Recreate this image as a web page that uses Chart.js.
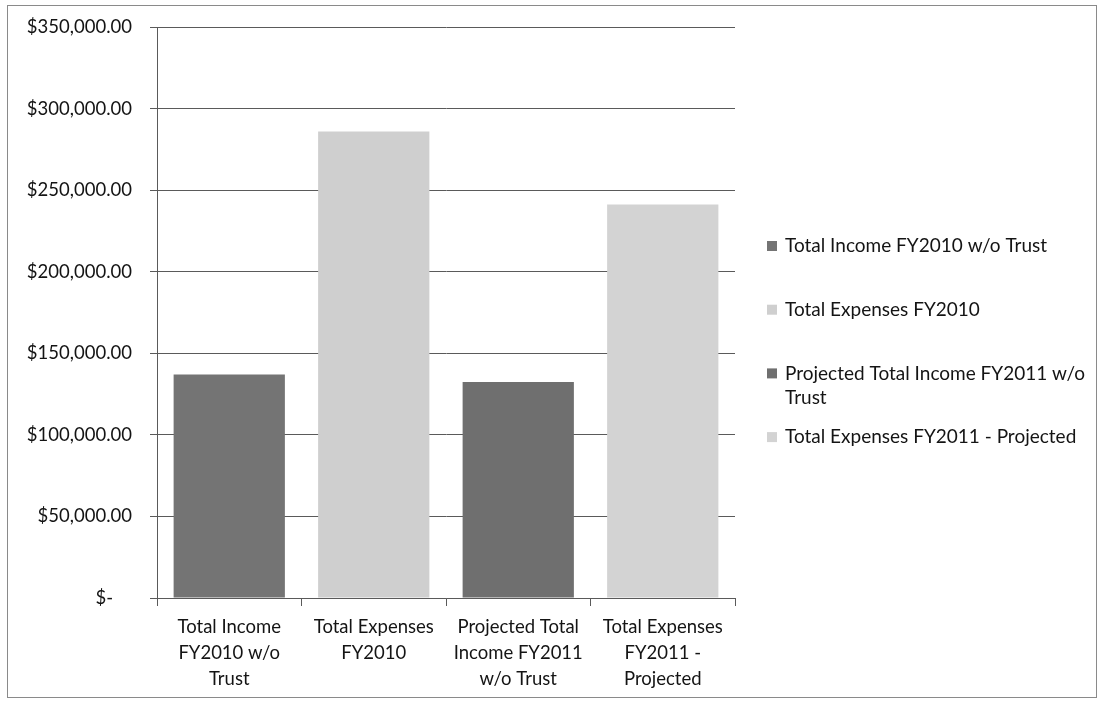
<!DOCTYPE html>
<html>
<head>
<meta charset="utf-8">
<script src="https://cdn.jsdelivr.net/npm/chart.js@4/dist/chart.umd.min.js"></script>
<style>
    html, body { margin: 0; padding: 0; background: #fff; }
    #wrap { width: 1102px; height: 704px; position: relative; }
</style>
</head>
<body>
<div id="wrap"><canvas id="chart"></canvas></div>
<script>
const categories = [
    ['Total Income', 'FY2010 w/o', 'Trust'],
    ['Total Expenses', 'FY2010'],
    ['Projected Total', 'Income FY2011', 'w/o Trust'],
    ['Total Expenses', 'FY2011 -', 'Projected'],
];
const legendNames = [
    'Total Income FY2010 w/o Trust',
    'Total Expenses FY2010',
    'Projected Total Income FY2011 w/o Trust',
    'Total Expenses FY2011 - Projected',
];
const amounts = [137000, 286000, 132500, 241300];
const barColors = ['#747474', '#cfcfcf', '#6f6f6f', '#d3d3d3'];

const FONT = 'Lato, "Open Sans", sans-serif';
const TEXT = '#141414';
const LINE = '#5a5a5a';

function money(v) {
    if (v === 0) return '$-    ';
    return '$' + v.toLocaleString('en-US', { minimumFractionDigits: 2, maximumFractionDigits: 2 });
}

// frame around the whole chart + legend at the right, drawn by hand so it can wrap
const framePlugin = {
    id: 'frame',
    beforeDraw(chart) {
        const ctx = chart.ctx;
        ctx.save();
        ctx.fillStyle = '#fff';
        ctx.fillRect(0, 0, chart.width, chart.height);
        ctx.strokeStyle = '#8a8a8a';
        ctx.lineWidth = 1;
        ctx.strokeRect(7.5, 5.5, 1089, 692);
        ctx.restore();
    },
    afterDraw(chart) {
        const ctx = chart.ctx;
        const colors = chart.data.datasets[0].backgroundColor;
        ctx.save();
        ctx.font = `19px ${FONT}`;
        ctx.textBaseline = 'middle';
        let y = 246;
        legendNames.forEach((name, i) => {
            const lines = [];
            let cur = '';
            name.split(' ').forEach((w) => {
                const test = cur === '' ? w : cur + ' ' + w;
                if (ctx.measureText(test).width > 312 && cur !== '') {
                    lines.push(cur);
                    cur = w;
                } else {
                    cur = test;
                }
            });
            lines.push(cur);
            ctx.fillStyle = colors[i];
            ctx.fillRect(767, y - 5, 10, 10);
            ctx.fillStyle = TEXT;
            lines.forEach((ln, k) => ctx.fillText(ln, 785, y + k * 24));
            y += 63.7;
        });
        ctx.restore();
    },
};

new Chart(document.getElementById('chart'), {
    type: 'bar',
    data: {
        labels: categories,
        datasets: [{
            data: amounts,
            backgroundColor: barColors,
            borderWidth: 0,
            categoryPercentage: 1,
            barPercentage: 0.77,
        }],
    },
    options: {
        responsive: true,
        maintainAspectRatio: false,
        animation: false,
        layout: { padding: { top: 27, right: 367, bottom: 0, left: 0 } },
        plugins: {
            legend: { display: false },
            tooltip: { enabled: false },
        },
        scales: {
            x: {
                grid: { display: true, drawOnChartArea: false, drawTicks: true, tickLength: 8, color: LINE, offset: true },
                border: { display: true, color: LINE },
                ticks: { color: TEXT, font: { family: FONT, size: 18.5, lineHeight: 1.4 }, padding: 8, maxRotation: 0, autoSkip: false },
                afterFit(scale) { scale.height = 106; },
            },
            y: {
                min: 0,
                max: 350000,
                ticks: { stepSize: 50000, color: TEXT, font: { family: FONT, size: 18.5, lineHeight: 1 }, padding: 18, callback: money },
                grid: { color: LINE, tickLength: 7, drawTicks: true },
                border: { display: true, color: LINE },
                afterFit(scale) { scale.width = 157; },
            },
        },
    },
    plugins: [framePlugin],
});
</script>
</body>
</html>
